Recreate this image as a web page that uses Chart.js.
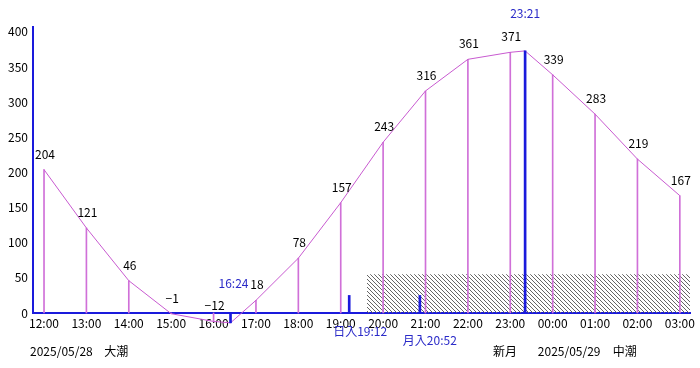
<!DOCTYPE html>
<html>
<head>
<meta charset="utf-8">
<script src="https://cdn.jsdelivr.net/npm/chart.js@4"></script>
<style>
html,body{margin:0;padding:0;background:#fff;}
canvas{display:block;}
</style>
</head>
<body>
<canvas id="c" width="700" height="368"></canvas>
<script>
// ---- data ----
const hourLabels = ['12:00','13:00','14:00','15:00','16:00','17:00','18:00','19:00','20:00','21:00','22:00','23:00','00:00','01:00','02:00','03:00'];
const tideValues = [204,121,46,-1,-12,18,78,157,243,316,361,371,339,283,219,167];
const yTicks = [0,50,100,150,200,250,300,350,400];
// extremes: hours after 12:00
const lowTide = {label:'16:24', x:4.4, y:-14};
const highTide = {label:'23:21', x:11.35, y:373};
const sunset = {label:'日入19:12', x:7.2, y:25};
const moonset = {label:'月入20:52', x:8.867, y:25};
const nightStart = 7.617; // 19:37
const nightLevel = 55;
const bottomTexts = [
  {text:'2025/05/28', x:-0.33},
  {text:'大潮', x:1.42},
  {text:'新月', x:10.59},
  {text:'2025/05/29', x:11.65},
  {text:'中潮', x:13.42}
];
const xMin = -0.26, xMax = 15.24, yMax = 407;

const FONT = '"Noto Sans CJK JP", "DejaVu Sans", sans-serif';
const BLUE = '#1a1adc';
const TEXTBLUE = '#2a2ac8';
const MAGENTA = '#c85ad0';
const STEM = '#d070d8';

// line points (hourly + extremes)
const linePts = tideValues.map((v,i)=>({x:i,y:v}));
linePts.push({x:lowTide.x,y:lowTide.y},{x:highTide.x,y:highTide.y});
linePts.sort((a,b)=>a.x-b.x);

// hatch pattern
const pc = document.createElement('canvas');
pc.width = 4; pc.height = 4;
const pctx = pc.getContext('2d');
pctx.fillStyle = '#666';
for (let i=0;i<4;i++) pctx.fillRect(i,i,1,1);
const ctx = document.getElementById('c').getContext('2d');
const hatch = ctx.createPattern(pc,'repeat');

const labelPlugin = {
  id:'labels',
  afterDatasetsDraw(chart){
    const c = chart.ctx, xs = chart.scales.x, ys = chart.scales.y;
    c.save();
    c.font = '12px ' + FONT;
    c.textBaseline = 'middle';
    c.textAlign = 'center';
    c.fillStyle = '#000';
    tideValues.forEach((v,i)=>{
      c.fillText(String(v).replace('-','−'), xs.getPixelForValue(i)+1, ys.getPixelForValue(v)-15.5);
    });
    c.fillStyle = TEXTBLUE;
    c.fillText(lowTide.label, xs.getPixelForValue(lowTide.x)+3, ys.getPixelForValue(42));
    c.fillText(highTide.label, xs.getPixelForValue(highTide.x), 13);
    c.textAlign = 'left';
    c.fillText(sunset.label, xs.getPixelForValue(sunset.x)-16, 331);
    c.fillText(moonset.label, xs.getPixelForValue(moonset.x)-17, 340);
    c.fillStyle = '#000';
    bottomTexts.forEach(t=>c.fillText(t.text, xs.getPixelForValue(t.x), 351));
    c.restore();
  }
};

new Chart(ctx, {
  data: {
    datasets: [
      {
        type:'line', order:1,
        data: linePts,
        borderColor: MAGENTA, borderWidth:1, pointRadius:0, tension:0, clip:false, fill:false
      },
      {
        type:'bar', order:5, grouped:false,
        data: tideValues.map((v,i)=>({x:i,y:[0,v]})),
        backgroundColor: STEM, barThickness:1, borderWidth:0, clip:false
      },
      {
        type:'bar', order:0, grouped:false,
        data: [lowTide,highTide,sunset,moonset].map(p=>({x:p.x,y:[0,p.y]})),
        backgroundColor: BLUE, barThickness:2, borderWidth:0, clip:false
      },
      {
        type:'line', order:10,
        data: [{x:nightStart,y:nightLevel},{x:xMax,y:nightLevel}],
        borderWidth:0, pointRadius:0, fill:'origin', backgroundColor: hatch
      }
    ]
  },
  options: {
    responsive:false, animation:false,
    layout:{padding:{top:27,right:10,left:0,bottom:0}},
    plugins:{legend:{display:false}, tooltip:{enabled:false}},
    scales:{
      x:{
        type:'linear', min:xMin, max:xMax, offset:false,
        grid:{display:false, drawTicks:false},
        border:{color:BLUE, width:2},
        afterBuildTicks(s){ s.ticks = hourLabels.map((_,i)=>({value:i})); },
        afterFit(s){ s.height = 55; },
        ticks:{
          autoSkip:false, maxRotation:0, padding:3, color:'#000',
          font:{family:FONT, size:12},
          callback:(v)=>hourLabels[v]
        }
      },
      y:{
        type:'linear', min:0, max:yMax,
        grid:{display:false, drawTicks:false},
        border:{color:BLUE, width:2},
        afterBuildTicks(s){ s.ticks = yTicks.map(v=>({value:v})); },
        afterFit(s){ s.width = 33; },
        ticks:{ padding:5, color:'#000', font:{family:FONT, size:12} }
      }
    }
  },
  plugins:[labelPlugin]
});
</script>
</body>
</html>
